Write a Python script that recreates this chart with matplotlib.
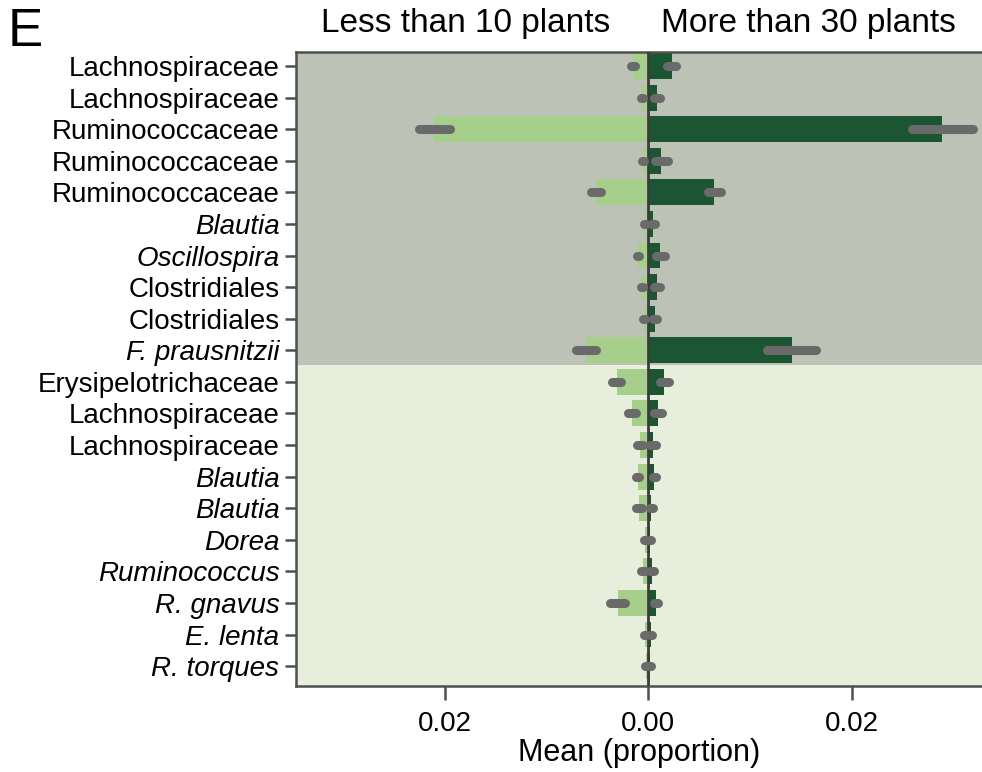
import matplotlib
matplotlib.use("Agg")
import numpy as np
from matplotlib import pyplot as plt

plt.rcParams['font.family'] = ['Liberation Sans', 'DejaVu Sans']

# Taxa, top to bottom
taxa = ['Lachnospiraceae', 'Lachnospiraceae', 'Ruminococcaceae', 'Ruminococcaceae',
        'Ruminococcaceae', 'Blautia', 'Oscillospira', 'Clostridiales', 'Clostridiales',
        'F. prausnitzii', 'Erysipelotrichaceae', 'Lachnospiraceae', 'Lachnospiraceae',
        'Blautia', 'Blautia', 'Dorea', 'Ruminococcus', 'R. gnavus', 'E. lenta', 'R. torques']
italic = [False, False, False, False, False, True, True, False, False, True,
          False, False, False, True, True, True, True, True, True, True]

# Mean proportion, less than 10 plants (drawn to the left)
less_mean = [0.0015, 0.0006, 0.0210, 0.0005, 0.0051, 0.0003, 0.0010, 0.0006, 0.0004, 0.0061,
             0.0031, 0.0016, 0.0008, 0.0010, 0.0009, 0.0003, 0.0005, 0.0030, 0.0003, 0.0002]
less_err = [0.0002, 0.0001, 0.0015, 0.0001, 0.0005, 0.0001, 0.0001, 0.0001, 0.0001, 0.0010,
            0.00045, 0.0004, 0.0003, 0.00015, 0.0003, 0.0001, 0.0002, 0.0007, 0.0001, 0.0001]
# Mean proportion, more than 30 plants (drawn to the right)
more_mean = [0.0023, 0.0009, 0.0289, 0.0013, 0.0065, 0.0005, 0.0012, 0.0009, 0.0007, 0.0141,
             0.0016, 0.0010, 0.0005, 0.0006, 0.0003, 0.0002, 0.0004, 0.0008, 0.0003, 0.0002]
more_err = [0.00045, 0.0003, 0.0030, 0.00065, 0.00065, 0.0002, 0.00045, 0.0003, 0.0002, 0.0024,
            0.00045, 0.0004, 0.0003, 0.00015, 0.00015, 0.0001, 0.0002, 0.0002, 0.0001, 0.0001]

n = len(taxa)
y = np.arange(n)

fig = plt.figure(figsize=(9.82, 7.72), dpi=100)
ax = fig.add_axes([0.3014, 0.1114, 0.6986, 0.8212])

# Background shading: top ten taxa vs the rest
ax.axhspan(-0.5, 9.47, color='#bcc3b6', zorder=0, lw=0)
ax.axhspan(9.47, n + 0.5, color='#e7efdc', zorder=0, lw=0)

ax.barh(y, -np.array(less_mean), height=0.82, color='#a7cf8c', zorder=2)
ax.barh(y, more_mean, height=0.82, color='#1b5532', zorder=2)
ax.axvline(0, color='#3c3c3c', lw=2, zorder=3)

lm = -np.array(less_mean)
le = np.array(less_err)
ax.hlines(y, lm - le, lm + le, color='#6a6a6a', lw=6.5, capstyle='round', zorder=4)
mm = np.array(more_mean)
me = np.array(more_err)
ax.hlines(y, mm - me, mm + me, color='#6a6a6a', lw=6.5, capstyle='round', zorder=4)

ax.set_xlim(-0.0346, 0.0328)
ax.set_ylim(19.63, -0.443)

ax.set_yticks(y)
ax.set_yticklabels(taxa, fontsize=20)
for lab, it in zip(ax.get_yticklabels(), italic):
    if it:
        lab.set_fontstyle('italic')
ax.set_xticks([-0.02, 0.0, 0.02])
ax.set_xticklabels(['0.02', '0.00', '0.02'], fontsize=20)
ax.tick_params(axis='y', length=8, width=1.8, color='#505050', pad=4)
ax.tick_params(axis='x', length=10, width=1.8, color='#505050', pad=8)

for side in ['left', 'bottom', 'top']:
    ax.spines[side].set_color('#505050')
    ax.spines[side].set_linewidth(1.8)
ax.spines['right'].set_visible(False)

ax.set_xlabel('Mean (proportion)', fontsize=22, labelpad=1)

fig.text(0.474, 0.970, 'Less than 10 plants', fontsize=24, ha='center', va='center')
fig.text(0.823, 0.970, 'More than 30 plants', fontsize=24, ha='center', va='center')
fig.text(0.008, 0.958, 'E', fontsize=38, ha='left', va='center')

fig.savefig('out.png', dpi=100)
